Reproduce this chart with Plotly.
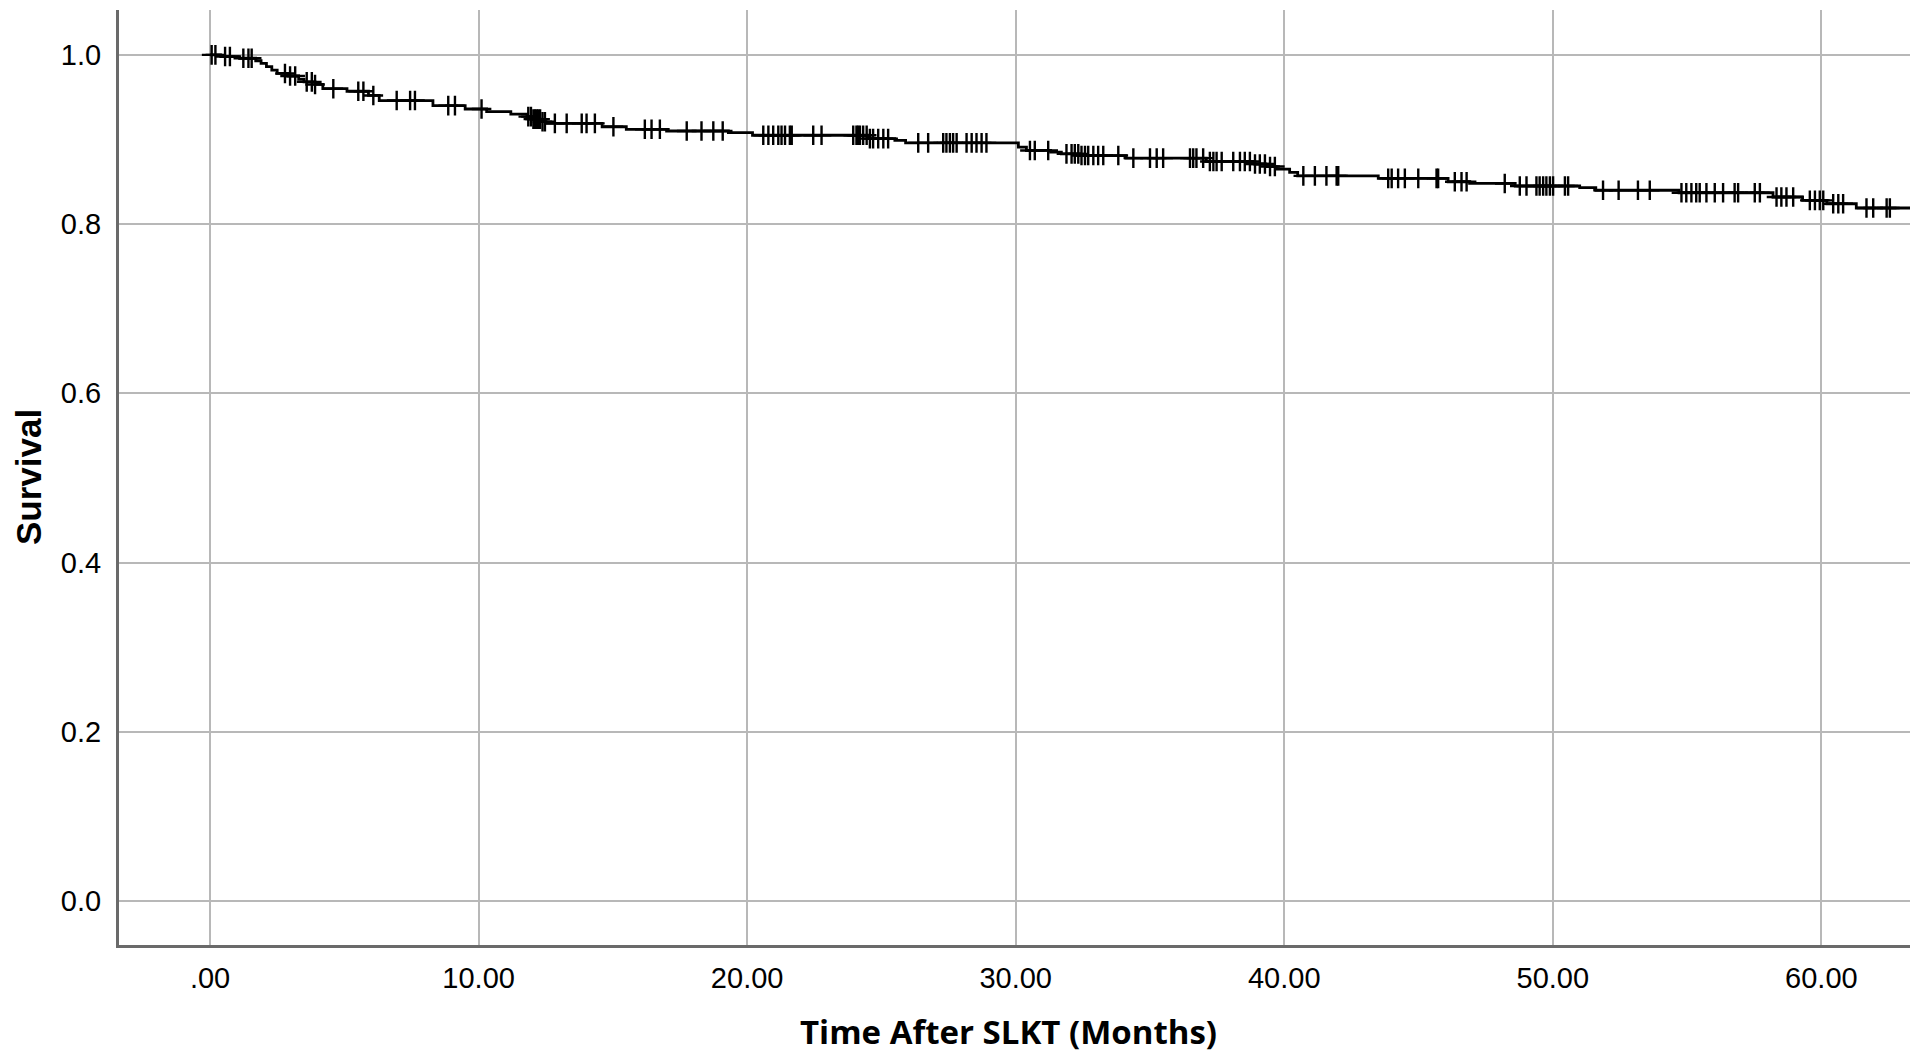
import numpy as np
import plotly.graph_objs as go

# Kaplan-Meier step curve: time (months) where survival changes, and survival after it
step_months = [0.0, 0.4, 1.1, 1.7, 1.9, 2.1, 2.3, 2.5, 2.9, 3.3, 3.5, 3.9, 4.2, 5.1, 5.9, 6.3,
               8.3, 9.5, 10.3, 11.2, 11.8, 12.0, 12.3, 12.5, 14.6, 15.5, 17.0, 19.3, 20.2,
               24.5, 25.5, 25.9, 30.1, 30.4, 31.3, 31.7, 32.4, 34.1, 37.1, 38.9, 39.3, 39.7,
               40.2, 40.5, 43.5, 46.1, 46.9, 48.6, 51.0, 51.6, 54.7, 58.2, 59.3, 60.2, 61.3, 63.4]
step_survival = [1.000, 0.998, 0.996, 0.993, 0.990, 0.986, 0.982, 0.978, 0.975, 0.971, 0.968,
                 0.965, 0.960, 0.957, 0.952, 0.946, 0.940, 0.936, 0.933, 0.930, 0.927, 0.924,
                 0.921, 0.919, 0.915, 0.912, 0.910, 0.908, 0.905, 0.901, 0.899, 0.896, 0.891,
                 0.887, 0.885, 0.883, 0.881, 0.878, 0.874, 0.871, 0.868, 0.865, 0.861, 0.857,
                 0.854, 0.850, 0.848, 0.845, 0.843, 0.840, 0.837, 0.832, 0.828, 0.824, 0.819, 0.819]

# censored cases (months)
censor_months = [0.06, 0.2, 0.56, 0.74, 1.24, 1.43, 1.55, 2.79, 2.98, 3.17, 3.60, 3.79, 3.91,
                 4.59, 5.52, 5.71, 6.08, 6.95, 7.45, 7.63, 8.87, 9.12, 10.11,
                 11.85, 11.95, 12.04, 12.10, 12.16, 12.22, 12.29, 12.38, 12.47, 12.84, 13.28,
                 13.84, 14.02, 14.33, 15.02, 16.19, 16.44, 16.75, 17.75, 18.30, 18.74, 19.09,
                 20.60, 20.79, 20.97, 21.16, 21.28, 21.41, 21.59, 21.66, 22.46, 22.77,
                 23.95, 24.07, 24.13, 24.20, 24.32, 24.45, 24.57, 24.69, 24.88, 25.07, 25.25,
                 26.37, 26.74, 27.30, 27.42, 27.55, 27.67, 27.80, 28.17, 28.36, 28.54, 28.73,
                 28.91, 30.53, 30.71, 31.21, 31.89, 32.08, 32.20, 32.33, 32.45, 32.58, 32.70,
                 32.89, 33.07, 33.26, 33.82, 34.38, 35.00, 35.25, 35.49, 36.49, 36.61, 36.73,
                 36.98, 37.23, 37.36, 37.48, 37.67, 38.10, 38.35, 38.53, 38.72, 38.91, 39.09,
                 39.28, 39.47, 39.65, 40.71, 41.14, 41.57, 41.95, 42.01, 43.87, 44.00, 44.24,
                 44.49, 44.99, 45.67, 45.73, 46.35, 46.60, 46.79, 48.21, 48.77, 49.02, 49.39,
                 49.51, 49.64, 49.76, 49.89, 50.01, 50.45, 50.57, 51.87, 52.45, 53.17, 53.61,
                 54.79, 54.97, 55.16, 55.34, 55.47, 55.72, 56.03, 56.34, 56.77, 56.90, 57.52,
                 57.71, 58.33, 58.51, 58.70, 58.95, 59.57, 59.76, 59.94, 60.07, 60.44, 60.63,
                 60.81, 61.68, 61.93, 62.43, 62.55]

x_ticks = [0, 10, 20, 30, 40, 50, 60]
x_tick_labels = ['.00', '10.00', '20.00', '30.00', '40.00', '50.00', '60.00']
y_ticks = [0.0, 0.2, 0.4, 0.6, 0.8, 1.0]
y_tick_labels = ['0.0', '0.2', '0.4', '0.6', '0.8', '1.0']

# survival value at each censor time
idx = np.searchsorted(step_months, censor_months, side='right') - 1
censor_survival = np.array(step_survival)[idx]

fig = go.Figure()
fig.add_trace(go.Scatter(x=step_months, y=step_survival, mode='lines', line_shape='hv',
                         line=dict(color='black', width=2.8), showlegend=False, hoverinfo='skip'))
fig.add_trace(go.Scatter(x=censor_months, y=censor_survival, mode='markers',
                         marker=dict(symbol='cross-thin', size=14, line=dict(color='black', width=2.4)),
                         showlegend=False))

# page body has an 8px margin, so the figure is sized/offset to fit the window
tick_font = dict(family='Liberation Sans, Arial', size=29, color='black')
fig.update_layout(
    width=1904, height=1046,
    margin=dict(l=111, r=2, t=2, b=109),
    paper_bgcolor='white', plot_bgcolor='white',
    xaxis=dict(range=[-3.39, 63.3], tickvals=x_ticks, ticktext=x_tick_labels,
               showgrid=True, gridcolor='#b8b8b8', gridwidth=2, zeroline=False,
               showline=True, linecolor='#6a6a6a', linewidth=3, ticks='',
               tickfont=tick_font, ticklabelstandoff=5, automargin=False),
    yaxis=dict(range=[-0.052, 1.053], tickvals=y_ticks, ticktext=y_tick_labels,
               showgrid=True, gridcolor='#b8b8b8', gridwidth=2, zeroline=False,
               showline=True, linecolor='#6a6a6a', linewidth=3, ticks='',
               tickfont=tick_font, ticklabelstandoff=9, automargin=False),
    annotations=[
        dict(text='<b>Time After SLKT (Months)</b>', xref='paper', yref='paper',
             x=0.4964, y=-0.092, xanchor='center', yanchor='middle', showarrow=False,
             font=dict(family='Open Sans', size=33, color='black')),
        dict(text='<b>Survival</b>', xref='paper', yref='paper', textangle=-90,
             x=-0.0505, y=0.5, xanchor='center', yanchor='middle', showarrow=False,
             borderpad=0, font=dict(family='Liberation Sans, Arial', size=35, color='black')),
    ],
)

fig.write_html("out.html")
